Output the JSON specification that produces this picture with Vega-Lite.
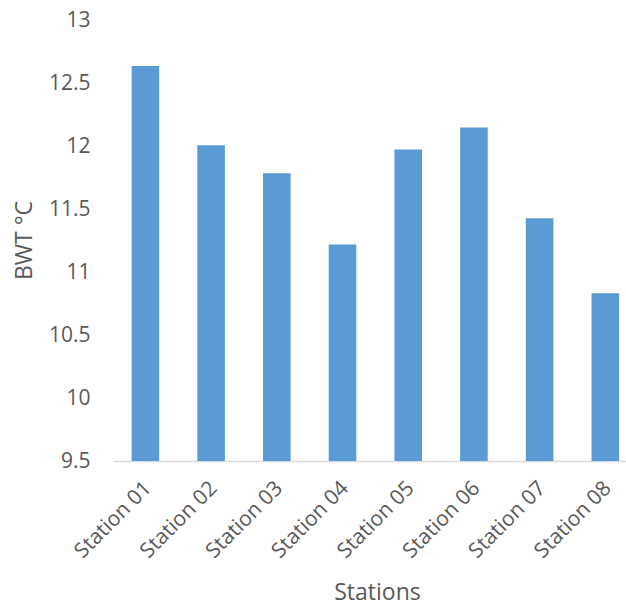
{
  "$schema": "https://vega.github.io/schema/vega-lite/v6.json",
  "autosize": "none",
  "width": 513,
  "height": 441,
  "padding": {"left": 113, "top": 20, "right": 0, "bottom": 145},
  "background": "white",
  "data": {
    "values": [
      {"station": "Station 01", "bwt": 12.634},
      {"station": "Station 02", "bwt": 12.006},
      {"station": "Station 03", "bwt": 11.784},
      {"station": "Station 04", "bwt": 11.219},
      {"station": "Station 05", "bwt": 11.972},
      {"station": "Station 06", "bwt": 12.147},
      {"station": "Station 07", "bwt": 11.426},
      {"station": "Station 08", "bwt": 10.832}
    ]
  },
  "mark": {"type": "bar", "color": "#5b9bd5", "clip": true},
  "encoding": {
    "x": {
      "field": "station",
      "type": "nominal",
      "sort": null,
      "scale": {"paddingInner": 0.58, "paddingOuter": 0.194, "align": 0.73},
      "axis": {
        "title": "Stations",
        "titleFont": "Open Sans",
        "titleFontSize": 23,
        "titleFontWeight": "normal",
        "titleColor": "#595959",
        "titleX": 264,
        "titleY": 131,
        "titleAlign": "center",
        "titleBaseline": "middle",
        "labelFont": "Open Sans",
        "labelFontSize": 21,
        "labelColor": "#595959",
        "labelAngle": -45,
        "labelPadding": 16,
        "labelOffset": -5,
        "ticks": false,
        "domainColor": "#d9d9d9",
        "domainWidth": 1.5,
        "grid": false
      }
    },
    "y": {
      "field": "bwt",
      "type": "quantitative",
      "scale": {"domain": [9.5, 13], "zero": false, "nice": false},
      "axis": {
        "title": "BWT °C",
        "titleFont": "Open Sans",
        "titleFontSize": 23,
        "titleFontWeight": "normal",
        "titleColor": "#595959",
        "titleX": -89,
        "titleY": 220,
        "titleAlign": "center",
        "titleBaseline": "middle",
        "titleAngle": -90,
        "values": [9.5, 10, 10.5, 11, 11.5, 12, 12.5, 13],
        "labelExpr": "datum.value",
        "labelFont": "Open Sans",
        "labelFontSize": 21,
        "labelColor": "#595959",
        "labelPadding": 23,
        "ticks": false,
        "domain": false,
        "grid": false
      }
    }
  },
  "config": {"view": {"stroke": null}}
}
